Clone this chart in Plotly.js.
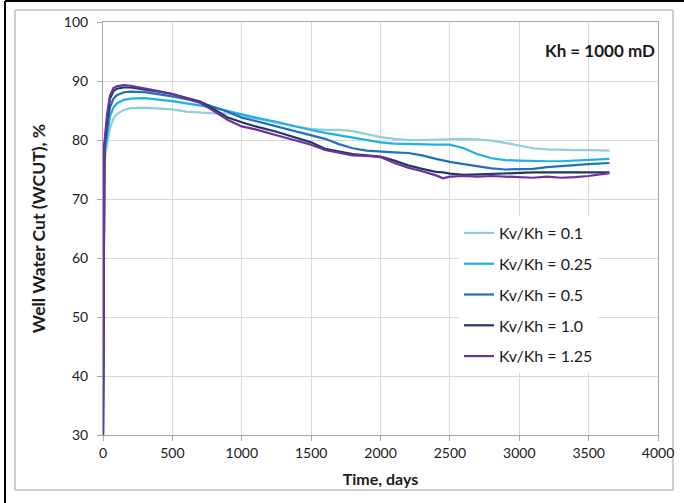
<!DOCTYPE html>
<html>
<head>
<meta charset="utf-8">
<script src="https://cdn.plot.ly/plotly-3.0.1.min.js"></script>
<style>
  html, body { margin: 0; padding: 0; background: #ffffff; }
  #chart { width: 684px; height: 503px; }
</style>
</head>
<body>
<div id="chart"></div>
<script>
// Time axis (days)
const timeDays = [0, 5, 10, 20, 30, 50, 75, 100, 150, 200, 300, 400, 500, 600, 700, 800, 900, 1000,
  1100, 1250, 1400, 1500, 1600, 1700, 1800, 1900, 2000, 2100, 2200, 2300, 2400, 2450, 2500,
  2600, 2700, 2800, 2900, 3000, 3100, 3200, 3300, 3400, 3500, 3650];

// Well water cut (%) per Kv/Kh ratio
const wcut_0_1 = [30, 74, 76, 78, 79.5, 82, 83.6, 84.4, 85.1, 85.4, 85.5, 85.4, 85.2, 84.8, 84.6, 84.5, 84.5, 84.2,
  83.6, 82.9, 82.2, 81.9, 81.7, 81.7, 81.5, 81.0, 80.5, 80.2, 80.0, 80.0, 80.1, 80.1, 80.2,
  80.2, 80.1, 79.9, 79.5, 79.0, 78.6, 78.4, 78.3, 78.3, 78.3, 78.2];
const wcut_0_25 = [30, 75, 77.5, 79, 81, 84, 85.5, 86.2, 86.8, 87.0, 87.1, 86.9, 86.6, 86.2, 85.9, 85.5, 84.9, 84.3,
  83.8, 83.1, 82.2, 81.7, 81.2, 80.8, 80.3, 79.9, 79.6, 79.4, 79.3, 79.2, 79.2, 79.2, 79.2,
  78.6, 77.6, 76.9, 76.6, 76.5, 76.4, 76.4, 76.4, 76.5, 76.6, 76.8];
const wcut_0_5 = [30, 76, 78.5, 80.5, 82.5, 85.5, 87, 87.6, 88.1, 88.2, 88.1, 87.8, 87.4, 86.9, 86.4, 85.6, 84.8, 83.8,
  83.2, 82.3, 81.3, 80.8, 80.2, 79.3, 78.6, 78.2, 78.0, 77.9, 77.8, 77.4, 76.8, 76.5, 76.3,
  75.9, 75.5, 75.2, 75.0, 75.0, 75.1, 75.4, 75.6, 75.8, 75.9, 76.1];
const wcut_1_0 = [30, 77, 79, 81, 83.5, 87, 88.3, 88.7, 88.9, 88.9, 88.6, 88.2, 87.8, 87.2, 86.5, 85.2, 83.8, 83.0,
  82.3, 81.4, 80.3, 79.6, 78.5, 78.0, 77.6, 77.4, 77.2, 76.5, 75.7, 75.1, 74.6, 74.5, 74.3,
  74.1, 74.2, 74.3, 74.3, 74.4, 74.5, 74.5, 74.5, 74.5, 74.5, 74.5];
const wcut_1_25 = [30, 78, 79.5, 82, 84.5, 87.5, 88.8, 89.1, 89.3, 89.2, 88.8, 88.3, 87.8, 87.1, 86.3, 84.9, 83.4, 82.3,
  81.8, 80.8, 79.8, 79.2, 78.3, 77.8, 77.4, 77.3, 77.1, 76.1, 75.3, 74.7, 74.0, 73.5, 73.8,
  73.9, 73.8, 73.9, 73.8, 73.6, 73.6, 73.8, 73.6, 73.7, 73.9, 74.4];

const seriesNames = ["Kv/Kh = 0.1", "Kv/Kh = 0.25", "Kv/Kh = 0.5", "Kv/Kh = 1.0", "Kv/Kh = 1.25"];
const seriesValues = [wcut_0_1, wcut_0_25, wcut_0_5, wcut_1_0, wcut_1_25];
const seriesColors = ["#93CDDD", "#1FB0E6", "#1F72BA", "#1F3A60", "#7030A0"];

const xTicks = [0, 500, 1000, 1500, 2000, 2500, 3000, 3500, 4000];
const yTicks = [30, 40, 50, 60, 70, 80, 90, 100];

const FONT = "Lato, 'Open Sans', sans-serif";

const traces = seriesValues.map((vals, i) => ({
  x: timeDays,
  y: vals,
  type: "scatter",
  mode: "lines",
  name: seriesNames[i],
  legendgroup: "g" + i,
  line: { color: seriesColors[i], width: 2.2 }
}));

// outer frame geometry (px -> paper)
const L = 103, R = 26, T = 22, B = 68, W = 684, H = 503;
const pw = W - L - R, ph = H - T - B;
const px = v => (v - L) / pw;
const py = v => (H - B - v) / ph;

const layout = {
  width: W,
  height: H,
  margin: { l: L, r: R, t: T, b: B, pad: 0 },
  paper_bgcolor: "#ffffff",
  plot_bgcolor: "#ffffff",
  font: { family: FONT, size: 14, color: "#1a1a1a" },
  showlegend: true,
  legend: {
    x: px(459), y: py(216), xanchor: "left", yanchor: "top",
    bgcolor: "#ffffff",
    font: { family: FONT, size: 16, color: "#1a1a1a" },
    traceorder: "grouped",
    tracegroupgap: 7
  },
  xaxis: {
    range: [0, 4000],
    tickvals: xTicks,
    ticktext: xTicks.map(String),
    showgrid: true,
    gridcolor: "#D9D9D9",
    gridwidth: 1,
    zeroline: false,
    showline: true,
    linecolor: "#A6A6A6",
    mirror: true,
    ticks: "outside",
    ticklen: 5,
    tickcolor: "#A6A6A6",
    tickfont: { family: FONT, size: 14, color: "#1a1a1a" },
    title: { text: "<b>Time, days</b>", font: { family: FONT, size: 16, color: "#1a1a1a" }, standoff: 14 }
  },
  yaxis: {
    range: [30, 100],
    tickvals: yTicks,
    ticktext: yTicks.map(String),
    showgrid: true,
    gridcolor: "#D9D9D9",
    gridwidth: 1,
    zeroline: false,
    showline: true,
    linecolor: "#A6A6A6",
    mirror: true,
    ticks: "outside",
    ticklen: 5,
    tickcolor: "#A6A6A6",
    ticklabelstandoff: 6,
    tickfont: { family: FONT, size: 14, color: "#1a1a1a" },
    title: { text: "<b>Well Water Cut (WCUT), %</b>", font: { family: FONT, size: 17.5, color: "#1a1a1a" }, standoff: 13 }
  },
  annotations: [{
    xref: "paper", yref: "paper",
    x: px(657), y: py(50), xanchor: "right", yanchor: "middle",
    text: "<b>Kh = 1000 mD</b>",
    showarrow: false,
    font: { family: FONT, size: 17, color: "#1a1a1a" }
  }],
  shapes: [
    { type: "rect", xref: "paper", yref: "paper", x0: px(15), x1: px(673), y0: py(490), y1: py(10),
      line: { color: "#A0A0A0", width: 1 }, fillcolor: "rgba(0,0,0,0)", layer: "below" },
    { type: "line", xref: "paper", yref: "paper", x0: px(5), x1: px(684), y0: py(1), y1: py(1),
      line: { color: "#000000", width: 2 } },
    { type: "line", xref: "paper", yref: "paper", x0: px(5), x1: px(5), y0: py(1), y1: py(503),
      line: { color: "#000000", width: 2 } }
  ]
};

Plotly.newPlot("chart", traces, layout, { staticPlot: true, displayModeBar: false });
</script>
</body>
</html>
